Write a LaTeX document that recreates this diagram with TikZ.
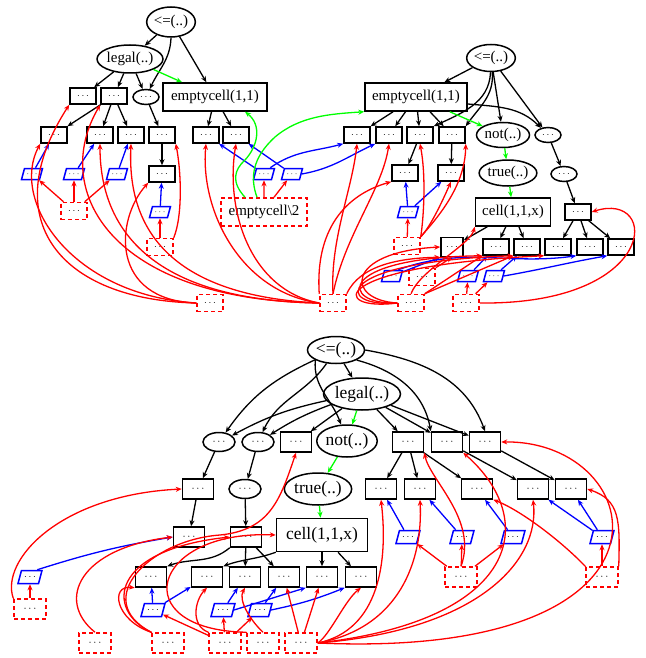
\documentclass[tikz,border=0pt]{standalone}
\usepackage{fontspec}
\setmainfont{Liberation Serif}
\usetikzlibrary{shapes.geometric,arrows.meta}
\newcommand\dts{$\cdots$}
\begin{document}
\begin{tikzpicture}[x=1pt,y=-1pt,
 ar/.style={-{Stealth[length=6pt,width=5pt]},line width=1.3pt},
 bk/.style={ar,black},
 rd/.style={ar,red},
 bl/.style={ar,blue},
 gr/.style={ar,green},
 nb/.style={draw,line width=1.5pt,inner sep=0pt},
 bxt/.style={nb,rectangle,minimum width=26pt,minimum height=16pt,font=\fontsize{10}{10}\selectfont},
 elt/.style={nb,ellipse,minimum width=26pt,minimum height=15pt,font=\fontsize{10}{10}\selectfont},
 pat/.style={nb,draw=blue,trapezium,trapezium left angle=62,trapezium right angle=118,trapezium stretches=true,minimum width=21pt,minimum height=11pt,font=\fontsize{9}{9}\selectfont},
 dst/.style={nb,draw=red,dash pattern=on 4pt off 3pt,minimum width=26pt,minimum height=17pt,font=\fontsize{10}{10}\selectfont},
 tt/.style={font=\fontsize{15}{18}\selectfont},
 bxb/.style={nb,rectangle,minimum width=31pt,minimum height=20pt,font=\fontsize{11}{11}\selectfont},
 elb/.style={nb,ellipse,minimum width=32pt,minimum height=19pt,font=\fontsize{11}{11}\selectfont},
 pab/.style={pat,minimum width=24pt,minimum height=13pt,font=\fontsize{10}{10}\selectfont},
 dsb/.style={dst,minimum width=32pt,minimum height=20pt,font=\fontsize{11}{11}\selectfont},
 bt/.style={font=\fontsize{17.5}{20}\selectfont}]
\useasboundingbox (0,0) rectangle (645,658);
% ================= top-left graph
\node[nb,ellipse,tt,minimum width=47pt,minimum height=30pt] (tA) at (171,22) {<=(..)};
\node[nb,ellipse,tt,minimum width=61pt,minimum height=28pt] (tL) at (130,59) {legal(..)};
\node[bxt] (ta1) at (83,96) {\dts};
\node[bxt] (ta2) at (114,96) {\dts};
\node[elt] (ta3) at (146,97) {\dts};
\node[nb,tt,minimum width=104pt,minimum height=28pt] (tE) at (215,97) {emptycell(1,1)};
\node[bxt] (tb1) at (54,135) {\dts};
\node[bxt] (tb2) at (100,135) {\dts};
\node[bxt] (tb3) at (131,135) {\dts};
\node[bxt] (tb4) at (162,135) {\dts};
\node[bxt] (tb5) at (206,135) {\dts};
\node[bxt] (tb6) at (236,135) {\dts};
\node[bxt] (tc4) at (162,174) {\dts};
\node[pat] (tp1) at (32,174) {\dts};
\node[pat] (tp2) at (74,174) {\dts};
\node[pat] (tp3) at (117,174) {\dts};
\node[pat] (tp4) at (264,174) {\dts};
\node[pat] (tp5) at (292,174) {\dts};
\node[pat] (tp6) at (160,212) {\dts};
\node[dst] (td1) at (74,211) {\dts};
\node[dst] (td2) at (160,247) {\dts};
\node[dst] (td3) at (210,303) {\dts};
\node[dst,tt,minimum width=86pt,minimum height=28pt] (tdE) at (264,212) {emptycell\textbackslash 2};
% ================= top-right graph
\node[nb,ellipse,tt,minimum width=47pt,minimum height=27pt] (rA) at (491,58) {<=(..)};
\node[nb,tt,minimum width=102pt,minimum height=28pt] (rE) at (416,97) {emptycell(1,1)};
\node[bxt] (rb1) at (357,135) {\dts};
\node[bxt] (rb2) at (389,135) {\dts};
\node[bxt] (rb3) at (420,135) {\dts};
\node[bxt] (rb4) at (452,135) {\dts};
\node[nb,ellipse,tt,minimum width=53pt,minimum height=25pt] (rN) at (503,135) {not(..)};
\node[elt] (re1) at (548,135) {\dts};
\node[bxt] (rc1) at (405,173) {\dts};
\node[bxt] (rc2) at (451,173) {\dts};
\node[nb,ellipse,tt,minimum width=50pt,minimum height=26pt] (rT) at (508,173) {true(..)};
\node[elt] (re2) at (564,174) {\dts};
\node[pat] (rp1) at (408,212) {\dts};
\node[nb,tt,minimum width=75pt,minimum height=28pt] (rC) at (513,212) {cell(1,1,x)};
\node[bxt] (rd5) at (578,212) {\dts};
\node[dst] (rd0) at (407,246) {\dts};
\node[bxt,minimum width=22pt,minimum height=19pt] (rf1) at (452,247) {\dts};
\node[bxt] (rf2) at (496,247) {\dts};
\node[bxt] (rf3) at (527,247) {\dts};
\node[bxt] (rf4) at (558,247) {\dts};
\node[bxt] (rf5) at (590,247) {\dts};
\node[bxt] (rf6) at (621,247) {\dts};
\node[pat] (rp2) at (392,276) {\dts};
\node[pat] (rp3) at (468,276) {\dts};
\node[pat] (rp4) at (494,276) {\dts};
\node[dst] (rd1) at (422,277) {\dts};
\node[dst] (rd2) at (333,303) {\dts};
\node[dst] (rd3) at (411,303) {\dts};
\node[dst] (rd4) at (466,303) {\dts};
% ================= bottom graph
\node[nb,ellipse,bt,minimum width=57pt,minimum height=27pt] (bA) at (336,350) {<=(..)};
\node[nb,ellipse,bt,minimum width=75pt,minimum height=32pt] (bL) at (362,394) {legal(..)};
\node[elb] (be1) at (219,442) {\dts};
\node[elb] (be2) at (258,442) {\dts};
\node[bxb] (bb1) at (296,442) {\dts};
\node[nb,ellipse,bt,minimum width=56pt,minimum height=32pt] (bN) at (347,441) {not(..)};
\node[bxb] (bb2) at (408,442) {\dts};
\node[bxb] (bb3) at (447,442) {\dts};
\node[bxb] (bb4) at (485,442) {\dts};
\node[bxb] (bb5) at (198,489) {\dts};
\node[elb] (be3) at (245,489) {\dts};
\node[nb,ellipse,bt,minimum width=63pt,minimum height=32pt] (bT) at (318,489) {true(..)};
\node[bxb] (bb6) at (381,489) {\dts};
\node[bxb] (bb7) at (420,489) {\dts};
\node[bxb] (bb8) at (477,489) {\dts};
\node[bxb] (bb9) at (533,489) {\dts};
\node[bxb] (bb10) at (571,489) {\dts};
\node[bxb] (bb11) at (189,537) {\dts};
\node[bxb] (bb12) at (246,537) {\dts};
\node[nb,bt,minimum width=91pt,minimum height=33pt] (bC) at (322,535) {cell(1,1,x)};
\node[pab] (bp5) at (408,537) {\dts};
\node[pab] (bp6) at (462,537) {\dts};
\node[pab] (bp7) at (513,537) {\dts};
\node[pab] (bp8) at (602,537) {\dts};
\node[pab] (bp0) at (30,577) {\dts};
\node[bxb] (bc1) at (151,577) {\dts};
\node[bxb] (bc2) at (207,577) {\dts};
\node[bxb] (bc3) at (245,577) {\dts};
\node[bxb] (bc4) at (284,577) {\dts};
\node[bxb] (bc5) at (322,577) {\dts};
\node[bxb] (bc6) at (361,577) {\dts};
\node[dsb] (bd5) at (461,577) {\dts};
\node[dsb] (bd6) at (602,577) {\dts};
\node[dsb] (bd0) at (30,609) {\dts};
\node[pab] (bp1) at (153,610) {\dts};
\node[pab] (bp2) at (223,610) {\dts};
\node[pab] (bp3) at (260,610) {\dts};
\node[dsb] (bd1) at (95,643) {\dts};
\node[dsb] (bd2) at (168,643) {\dts};
\node[dsb] (bd3) at (225,643) {\dts};
\node[dsb] (bd4) at (263,643) {\dts};
\node[dsb] (bd7) at (301,643) {\dts};
% ================= top-left edges
\draw[bk] (tA) -- (tL);
\draw[bk] (tA.south) to[out=-92,in=65] (ta3);
\draw[bk] (tA) -- (tE);
\draw[bk] (tL) -- (ta1);
\draw[bk] (tL) -- (ta2);
\draw[bk] (tL) -- (ta3);
\draw[gr] (tL) -- (tE);
\draw[bk] (ta2) -- (tb1);
\draw[bk] (ta2) -- (tb2);
\draw[bk] (ta2) -- (tb3);
\draw[bk] (ta3) -- (tb4);
\draw[bk] (tE) -- (tb5);
\draw[bk] (tE) -- (tb6);
\draw[bk] (tb4) -- (tc4);
\draw[bl] (tp1) -- (tb1);
\draw[bl] (tp2) -- (tb2);
\draw[bl] (tp3) -- (tb3);
\draw[bl] (tp6) -- (tc4);
\draw[bl] (tp4) -- (tb5);
\draw[bl] (tp5) -- (tb6);
\draw[bl] (tp4.north east) to[out=35,in=195] (rb1.south west);
\draw[bl] (tp5.east) to[out=10,in=205] (rb2.south west);
\draw[rd] (td1) -- (tp1);
\draw[rd] (td1) -- (tp2);
\draw[rd] (td1) -- (tp3);
\draw[rd] (td2) -- (tp6);
\draw[rd] (td2.north east) .. controls (183,215) and (181,170) .. (tb4.south east);
\draw[rd] (tdE.north) -- (tp4);
\draw[rd] ([xshift=10pt]tdE.north) -- (tp5);
\draw[gr] ([xshift=-19pt]tdE.north) .. controls (231,182) and (234,170) .. (245,160) .. controls (258,146) and (262,125) .. ([xshift=30pt]tE.south);
\draw[gr] ([xshift=-7pt]tdE.north) .. controls (250,178) and (252,158) .. (275,137) .. controls (300,116) and (330,114) .. (rE.south west);
% red long curves, top-left
\draw[rd] (td3.west) .. controls (60,300) and (-5,220) .. (ta1.south west);
\draw[rd] (td3.west) .. controls (70,295) and (10,200) .. (tb1.south west);
\draw[rd] (td3.west) .. controls (110,300) and (115,220) .. (tc4.south west);
\draw[rd] (rd2.west) .. controls (110,300) and (50,190) .. (ta2.south west);
\draw[rd] (rd2.west) .. controls (130,300) and (100,210) .. (tb2.south);
\draw[rd] (rd2.west) .. controls (150,295) and (128,210) .. (tb3.south);
\draw[rd] (rd2.west) .. controls (240,292) and (200,210) .. (tb5.south);
\draw[rd] (rd2.west) .. controls (250,290) and (225,210) .. (tb6.south);
% ================= top-right edges
\draw[bk] (rA) -- (rE);
\draw[bk] (rA) to[out=-92,in=25] (rb3.north east);
\draw[bk] (rA) to[out=-85,in=55] (rb4.north east);
\draw[bk] (rA) -- (rN);
\draw[bk] (rA) -- (re1);
\draw[bk] (rE) -- (rb1);
\draw[bk] (rE) -- (rb2);
\draw[bk] (rE) -- (rb3);
\draw[bk] (rE) -- (rb4);
\draw[bk] ([yshift=-7pt]rE.east) to[out=-5,in=135] (re1);
\draw[gr] (rE) -- (rN);
\draw[gr] (rN) -- (rT);
\draw[gr] (rT) -- (rC);
\draw[bk] (re1) -- (re2);
\draw[bk] (re2) -- (rd5);
\draw[bk] (rd5) -- (rf4);
\draw[bk] (rd5) -- (rf5);
\draw[bk] (rd5) -- (rf6);
\draw[bk] (rC) -- (rf1);
\draw[bk] (rC) -- (rf2);
\draw[bk] (rC) -- (rf3);
\draw[bk] (rb3) -- (rc1);
\draw[bk] (rb4) -- (rc2);
\draw[bl] (rp1) -- (rc1);
\draw[bl] (rp1) -- (rc2);
\draw[bl] (rp2) -- (rf1.south west);
\draw[bl] (rp2.north east) to[out=20,in=188] (rf5.south west);
\draw[bl] (rp3) -- (rf2);
\draw[bl] (rp4) -- (rf3);
\draw[bl] (rp4.east) to[out=10,in=190] (rf6.south west);
\draw[rd] (rd0) -- (rp1);
\draw[rd] (rd4) -- (rp3);
\draw[rd] (rd4) -- (rp4);
\draw[rd] (rd2.north) .. controls (330,240) and (352,190) .. (rb1.south);
\draw[rd] (rd2.north) .. controls (345,235) and (382,190) .. (rb2.south);
\draw[rd] (rd2.north west) .. controls (315,230) and (345,195) .. (rc1.south west);
\draw[rd] (rd0.north east) .. controls (424,215) and (426,175) .. (rb3.south);
\draw[rd] (rd0.north east) .. controls (440,215) and (465,185) .. (rb4.south east);
\draw[rd] (rd0.north east) .. controls (432,225) and (445,195) .. (rc2.south);
\draw[rd] (rd3.north) .. controls (420,270) and (470,245) .. (rC.south west);
\draw[rd] (rd3.west) .. controls (345,300) and (345,252) .. (rf1.west);
\draw[rd] (rd3.west) .. controls (340,305) and (335,258) .. (rf2.south west);
\draw[rd] (rd3.west) .. controls (335,308) and (330,262) .. (rf3.south west);
\draw[rd] (rd3.west) .. controls (330,312) and (325,266) .. (rf4.south west);
\draw[rd] (rd2.north east) .. controls (360,265) and (400,258) .. (rf1.south west);
\draw[rd] (rd3.north east) -- (rf2.south west);
\draw[rd] (rd3.north east) -- (rf3.south west);
\draw[rd] (rd1.north east) -- (rf1.south);
\draw[rd] (rd4.east) .. controls (660,305) and (660,190) .. (rd5.east);
% ================= bottom edges
\draw[bk] (bA) -- (bL);
\draw[bk] (bA) to[out=205,in=55] (be1);
\draw[bk] (bA) to[out=235,in=65] (be2);
\draw[bk] (bA.south west) to[out=-95,in=110] (bN);
\draw[bk] (bA.south east) to[out=-15,in=100] (bb3.north west);
\draw[bk] (bA.east) to[out=-10,in=110] (bb4.north);
\draw[bk] (bL) to[bend right=8] (be1);
\draw[bk] (bL) to[bend right=6] (be2);
\draw[bk] (bL) -- (bb1);
\draw[gr] (bL) -- (bN);
\draw[bk] (bL) -- (bb2);
\draw[bk] (bL) -- (bb3);
\draw[bk] (bL) -- (bb4);
\draw[bk] (be1) -- (bb5);
\draw[bk] (be2) -- (be3);
\draw[bk] (be3) -- (bb12);
\draw[bk] (bb5) -- (bb11);
\draw[gr] (bN) -- (bT);
\draw[gr] (bT) -- (bC);
\draw[bk] (bb2) -- (bb6);
\draw[bk] (bb2) -- (bb7);
\draw[bk] (bb2) -- (bb8);
\draw[bk] (bb3) -- (bb9);
\draw[bk] (bb4) -- (bb10);
\draw[bk] (bb12.south west) to[out=-140,in=20] (bc1.north east);
\draw[bk] (bb12) -- (bc3);
\draw[bk] (bb12) -- (bc4);
\draw[bk] (bC.south west) to[out=-160,in=20] (bc2.north east);
\draw[bk] (bC) -- (bc5);
\draw[bk] (bC) -- (bc6);
\draw[bl] (bp0.north east) to[bend left=4] (bb11.west);
\draw[bl] (bp1) -- (bc1);
\draw[bl] (bp1) -- (bc2);
\draw[bl] (bp2) -- (bc3);
\draw[bl] (bp2.east) -- (bc5.south west);
\draw[bl] (bp3) -- (bc4);
\draw[bl] (bp3.east) to[bend right=5] (bc6.south west);
\draw[bl] (bp5) -- (bb6);
\draw[bl] (bp6) -- (bb7);
\draw[bl] (bp7) -- (bb8);
\draw[bl] (bp8) -- (bb9);
\draw[bl] (bp8) -- (bb10);
\draw[rd] (bd0) -- (bp0);
\draw[rd] (bd0.north west) .. controls (0,560) and (60,495) .. (bb5.west);
\draw[rd] (bd1.north) .. controls (55,600) and (80,548) .. (bb11.west);
\draw[rd] (bd3) -- (bp1);
\draw[rd] (bd3) -- (bp2);
\draw[rd] (bd3) -- (bp3);
\draw[rd] (bd2.north west) .. controls (115,620) and (110,585) .. (bc1.south west);
\draw[rd] (bd2.north west) .. controls (105,610) and (110,550) .. (bb12.west);
\draw[rd] (bd2.north west) .. controls (90,600) and (150,540) .. (220,535) .. controls (270,530) and (280,500) .. (bb1.south);
\draw[rd] (bd4.north west) .. controls (125,630) and (150,530) .. (bC.west);
\draw[rd] (bd3.north west) .. controls (190,625) and (195,600) .. (bc2.south);
\draw[rd] (bd4.north) .. controls (250,620) and (238,600) .. (bc3.south);
\draw[rd] (bd7) -- (bc4);
\draw[rd] (bd7) -- (bc5);
\draw[rd] (bd5) -- (bp5);
\draw[rd] (bd5) -- (bp6);
\draw[rd] (bd5) -- (bp7);
\draw[rd] (bd5.north) .. controls (478,520) and (430,480) .. (bb2.south east);
\draw[rd] (bd6) -- (bp8);
\draw[rd] (bd6.north west) .. controls (560,540) and (520,510) .. (bb8.south east);
\draw[rd] (bd6.north east) .. controls (620,520) and (620,500) .. (bb10.east);
\draw[rd] (bd7.east) .. controls (380,630) and (388,560) .. (bb6.south);
\draw[rd] (bd7.east) .. controls (400,628) and (423,560) .. (bb7.south);
\draw[rd] (bd7.east) .. controls (480,630) and (540,560) .. (bb9.south);
\draw[rd] (bd7.east) .. controls (520,620) and (540,520) .. (bb3.south east);
\draw[rd] (bd7.east) .. controls (330,635) and (345,600) .. (bc6.south);
\draw[rd] (bd7.east) .. controls (700,660) and (650,440) .. (bb4.east);
\end{tikzpicture}
\end{document}
